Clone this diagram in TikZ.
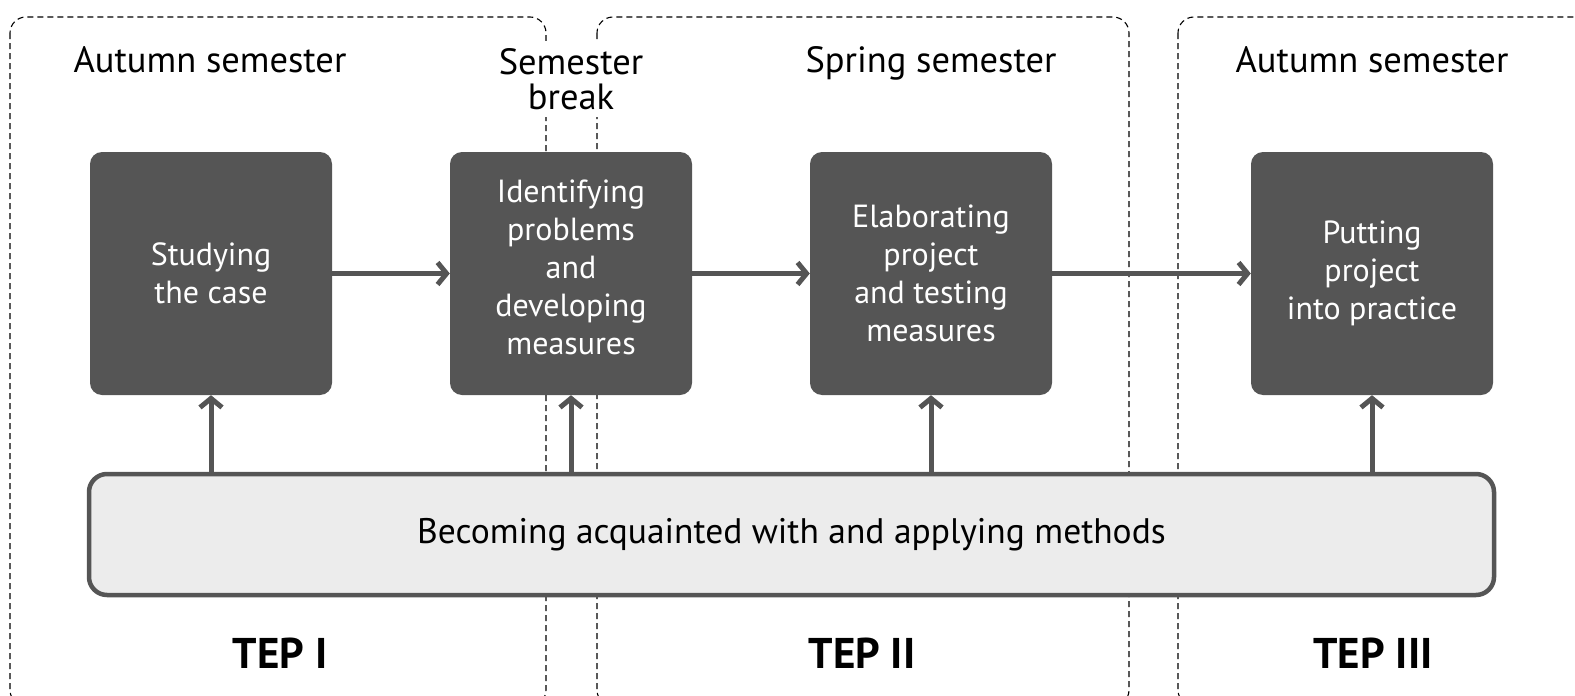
\documentclass[tikz,border=0pt]{standalone}
\usepackage{fontspec}
\setmainfont{PT Sans}
\usetikzlibrary{arrows.meta}
\definecolor{boxgray}{RGB}{85,85,85}
\definecolor{lightfill}{RGB}{236,236,236}
\tikzset{
  phase/.style={draw=black, line width=1.1pt, dash pattern=on 6pt off 4pt, rounded corners=16pt},
  stepbox/.style={rectangle, rounded corners=12pt, fill=boxgray, draw=none, text=white,
    minimum width=242pt, minimum height=243pt, align=center,
    font=\fontsize{32}{38}\selectfont},
  methodsbox/.style={rectangle, rounded corners=18pt, fill=lightfill, draw=boxgray, line width=4.5pt,
    minimum width=1405pt, minimum height=121pt, font=\fontsize{35.5}{40}\selectfont},
  header/.style={fill=white, inner sep=2pt, align=center, font=\fontsize{36.5}{35}\selectfont},
  tep/.style={font=\fontsize{43}{48}\selectfont\bfseries, anchor=base},
  arr/.style={draw=boxgray, line width=5pt, -{Straight Barb[length=9pt, width=22pt, line width=5pt]}}
}
\begin{document}
\begin{tikzpicture}[x=1pt, y=-1pt]
\useasboundingbox (0,0) rectangle (1575,696);
% phase frames
\draw[phase] (10,17) rectangle (546,706);
\draw[phase] (597,17) rectangle (1129,706);
\draw[phase] (1178,17) rectangle (1600,706);
% headers
\node[header, anchor=base] (h1) at (210,72) {Autumn semester};
\node[header, inner ysep=7pt] (h2) at (571,79) {Semester\\break};
\node[header, anchor=base] (h3) at (931,72) {Spring semester};
\node[header, anchor=base] (h4) at (1372,72) {Autumn semester};
% steps
\node[stepbox] (s1) at (211,273.5) {Studying\\the case};
\node[stepbox] (s2) at (571,273.5) {Identifying\\problems\\and\\developing\\measures\\[-26pt]\mbox{}};
\node[stepbox] (s3) at (931,273.5) {Elaborating\\project\\and testing\\measures};
\node[stepbox] (s4) at (1372,273.5) {Putting\\project\\into practice};
% methods
\node[methodsbox] (m) at (791.5,534.5) {Becoming acquainted with and applying methods};
% arrows
\draw[arr] (s1.east) -- (s2.west);
\draw[arr] (s2.east) -- (s3.west);
\draw[arr] (s3.east) -- (s4.west);
\foreach \s in {s1,s2,s3,s4}{
  \draw[arr] (m.north -| \s.south) ++(0,-2.25pt) coordinate (tmp) (tmp) -- (\s.south);
}
% TEP labels
\node[tep] (t1) at (280,668) {TEP I};
\node[tep] (t2) at (862,668) {TEP II};
\node[tep] (t3) at (1373,668) {TEP III};
\end{tikzpicture}
\end{document}
